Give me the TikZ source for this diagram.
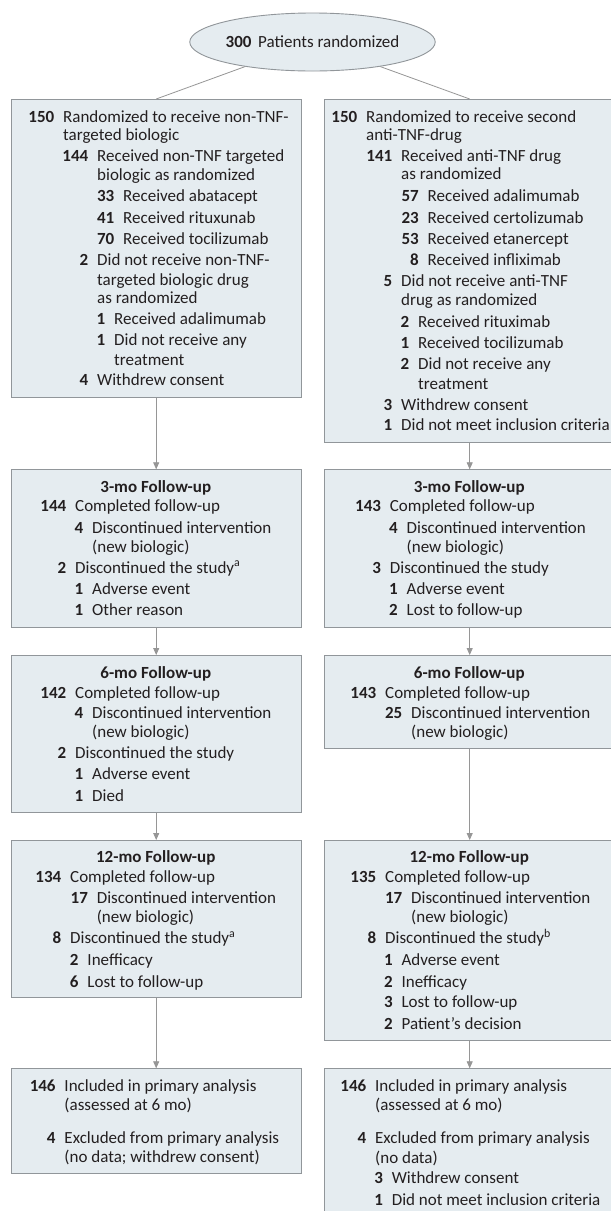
\documentclass[tikz,border=0pt]{standalone}
\usepackage{fontspec}
\setmainfont{Carlito}
\usetikzlibrary{arrows.meta,shapes.geometric}
\definecolor{boxfill}{RGB}{229,236,240}
\definecolor{boxline}{RGB}{145,150,154}
\definecolor{arrline}{RGB}{150,150,150}
\definecolor{ink}{RGB}{35,31,32}
\newcommand{\fs}{\fontsize{17bp}{20bp}\selectfont}
\newcounter{ln}
\newcommand{\myent}[4]{\stepcounter{ln}%
  \node[num] (n\theln) at ({#2-8.5},#1) {#3};%
  \node[txt] (t\theln) at (#2,#1) {#4};}
\newcommand{\mycont}[3]{\stepcounter{ln}%
  \node[txt] (c\theln) at (#2,#1) {#3};}
\newcommand{\myttl}[3]{\node[ttl] (#1) at (#2,#3) {#1};}
\begin{document}
\begin{tikzpicture}[x=1bp,y=-1bp,
  box/.style={draw=boxline,fill=boxfill,line width=0.9bp,anchor=north west,minimum width=290.5bp,inner sep=0pt},
  num/.style={anchor=base east,inner sep=0pt,text=ink,font=\fs\bfseries},
  txt/.style={anchor=base west,inner sep=0pt,text=ink,font=\fs},
  ttlstyle/.style={anchor=base,inner sep=0pt,text=ink,font=\fs\bfseries},
  conn/.style={draw=arrline,line width=0.8bp},
  arr/.style={draw=arrline,line width=0.8bp,-{Triangle[width=6bp,length=7bp]}}]
\useasboundingbox (0,0) rectangle (611,1211);
\fill[white] (0,0) rectangle (611,1211);
\clip (0,0) rectangle (611,1211);

% top ellipse
\node[ellipse,draw=boxline,fill=boxfill,line width=0.9bp,minimum width=203bp,minimum height=58bp,inner sep=0pt,text=ink,font=\fs] (top) at (312.5,42) {\textbf{300}\, Patients randomized};

% boxes
\node[box,minimum height=298bp] (L1) at (10.5,99) {};
\node[box,minimum height=343bp] (R1) at (324,99) {};
\node[box,minimum height=158bp] (L3) at (10.5,469.3) {};
\node[box,minimum height=158bp] (R3) at (324,469.3) {};
\node[box,minimum height=157.3bp] (L6) at (10.5,655) {};
\node[box,minimum height=93.3bp] (R6) at (324,655) {};
\node[box,minimum height=157.3bp] (L12) at (10.5,840) {};
\node[box,minimum height=200bp] (R12) at (324,840) {};
\node[box,minimum height=105bp] (LF) at (10.5,1068.3) {};
\node[box,minimum height=170bp] (RF) at (324,1068.3) {};

% connectors
\draw[conn] (top) -- (L1.north);
\draw[conn] (top) -- (R1.north);
\draw[arr] (L1.south) -- (L3.north);
\draw[arr] (L3.south) -- (L6.north);
\draw[arr] (L6.south) -- (L12.north);
\draw[arr] (L12.south) -- (LF.north);
\draw[arr] (R1.south) -- (R3.north);
\draw[arr] (R3.south) -- (R6.north);
\draw[arr] (R6.south) -- (R12.north);
\draw[arr] (R12.south) -- (RF.north);

% left box 1
\myent{122}{63}{150}{Randomized to receive non-TNF-}
\mycont{140.5}{63}{targeted biologic}
\myent{161.5}{97}{144}{Received non-TNF targeted}
\mycont{180.5}{97}{biologic as randomized}
\myent{201.5}{123}{33}{Received abatacept}
\myent{223}{123}{41}{Received rituxunab}
\myent{244}{123}{70}{Received tocilizumab}
\myent{265.5}{97}{2}{Did not receive non-TNF-}
\mycont{285}{97}{targeted biologic drug}
\mycont{303}{97}{as randomized}
\myent{324.5}{114}{1}{Received adalimumab}
\myent{345.5}{114}{1}{Did not receive any}
\mycont{365}{114}{treatment}
\myent{385.5}{97}{4}{Withdrew consent}

% right box 1
\myent{122}{366}{150}{Randomized to receive second}
\mycont{140.5}{366}{anti-TNF-drug}
\myent{161.5}{401}{141}{Received anti-TNF drug}
\mycont{179.5}{401}{as randomized}
\myent{201.5}{427.5}{57}{Received adalimumab}
\myent{223}{427.5}{23}{Received certolizumab}
\myent{244}{427.5}{53}{Received etanercept}
\myent{265.5}{427.5}{8}{Received infliximab}
\myent{286.5}{401}{5}{Did not receive anti-TNF}
\mycont{305.5}{401}{drug as randomized}
\myent{327}{418}{2}{Received rituximab}
\myent{348.5}{418}{1}{Received tocilizumab}
\myent{369.5}{418}{2}{Did not receive any}
\mycont{389}{418}{treatment}
\myent{410}{401}{3}{Withdrew consent}
\myent{430.5}{401}{1}{Did not meet inclusion criteria}

% 3-mo
\node[ttlstyle] (T3L) at (155.75,492.8) {3-mo Follow-up};
\myent{511.5}{75}{144}{Completed follow-up}
\myent{533.8}{92}{4}{Discontinued intervention}
\mycont{552.2}{92}{(new biologic)}
\myent{573.2}{75}{2}{Discontinued the study\textsuperscript{a}}
\myent{594.8}{92}{1}{Adverse event}
\myent{615.5}{92}{1}{Other reason}

\node[ttlstyle] (T3R) at (469.25,492.8) {3-mo Follow-up};
\myent{511.5}{389.7}{143}{Completed follow-up}
\myent{533.8}{406.5}{4}{Discontinued intervention}
\mycont{552.2}{406.5}{(new biologic)}
\myent{573.2}{389.7}{3}{Discontinued the study}
\myent{594.8}{406.5}{1}{Adverse event}
\myent{615.5}{406.5}{2}{Lost to follow-up}

% 6-mo
\node[ttlstyle] (T6L) at (155.75,678.2) {6-mo Follow-up};
\myent{698.2}{75}{142}{Completed follow-up}
\myent{718.8}{92}{4}{Discontinued intervention}
\mycont{737.8}{92}{(new biologic)}
\myent{758.8}{75}{2}{Discontinued the study}
\myent{779.8}{92}{1}{Adverse event}
\myent{801.5}{92}{1}{Died}

\node[ttlstyle] (T6R) at (469.25,678.2) {6-mo Follow-up};
\myent{698.2}{385}{143}{Completed follow-up}
\myent{718.8}{411}{25}{Discontinued intervention}
\mycont{737.8}{411}{(new biologic)}

% 12-mo
\node[ttlstyle] (T12L) at (155.75,862.8) {12-mo Follow-up};
\myent{882.8}{70}{134}{Completed follow-up}
\myent{903.8}{96.6}{17}{Discontinued intervention}
\mycont{922.8}{96.6}{(new biologic)}
\myent{943.8}{70}{8}{Discontinued the study\textsuperscript{a}}
\myent{965.5}{87.3}{2}{Inefficacy}
\myent{987.2}{87.3}{6}{Lost to follow-up}

\node[ttlstyle] (T12R) at (469.25,862.8) {12-mo Follow-up};
\myent{882.8}{385}{135}{Completed follow-up}
\myent{903.8}{411}{17}{Discontinued intervention}
\mycont{922.8}{411}{(new biologic)}
\myent{943.8}{385}{8}{Discontinued the study\textsuperscript{b}}
\myent{965.5}{401.4}{1}{Adverse event}
\myent{987.2}{401.4}{2}{Inefficacy}
\myent{1007.8}{401.4}{3}{Lost to follow-up}
\myent{1029.5}{401.4}{2}{Patient’s decision}

% final
\myent{1091.5}{64.3}{146}{Included in primary analysis}
\mycont{1110.5}{64.3}{(assessed at 6 mo)}
\myent{1143.8}{64.3}{4}{Excluded from primary analysis}
\mycont{1162.8}{64.3}{(no data; withdrew consent)}

\myent{1091.5}{375}{146}{Included in primary analysis}
\mycont{1110.5}{375}{(assessed at 6 mo)}
\myent{1143.8}{375}{4}{Excluded from primary analysis}
\mycont{1163}{375}{(no data)}
\myent{1183.8}{391.6}{3}{Withdrew consent}
\myent{1205.5}{391.6}{1}{Did not meet inclusion criteria}
\end{tikzpicture}
\end{document}
